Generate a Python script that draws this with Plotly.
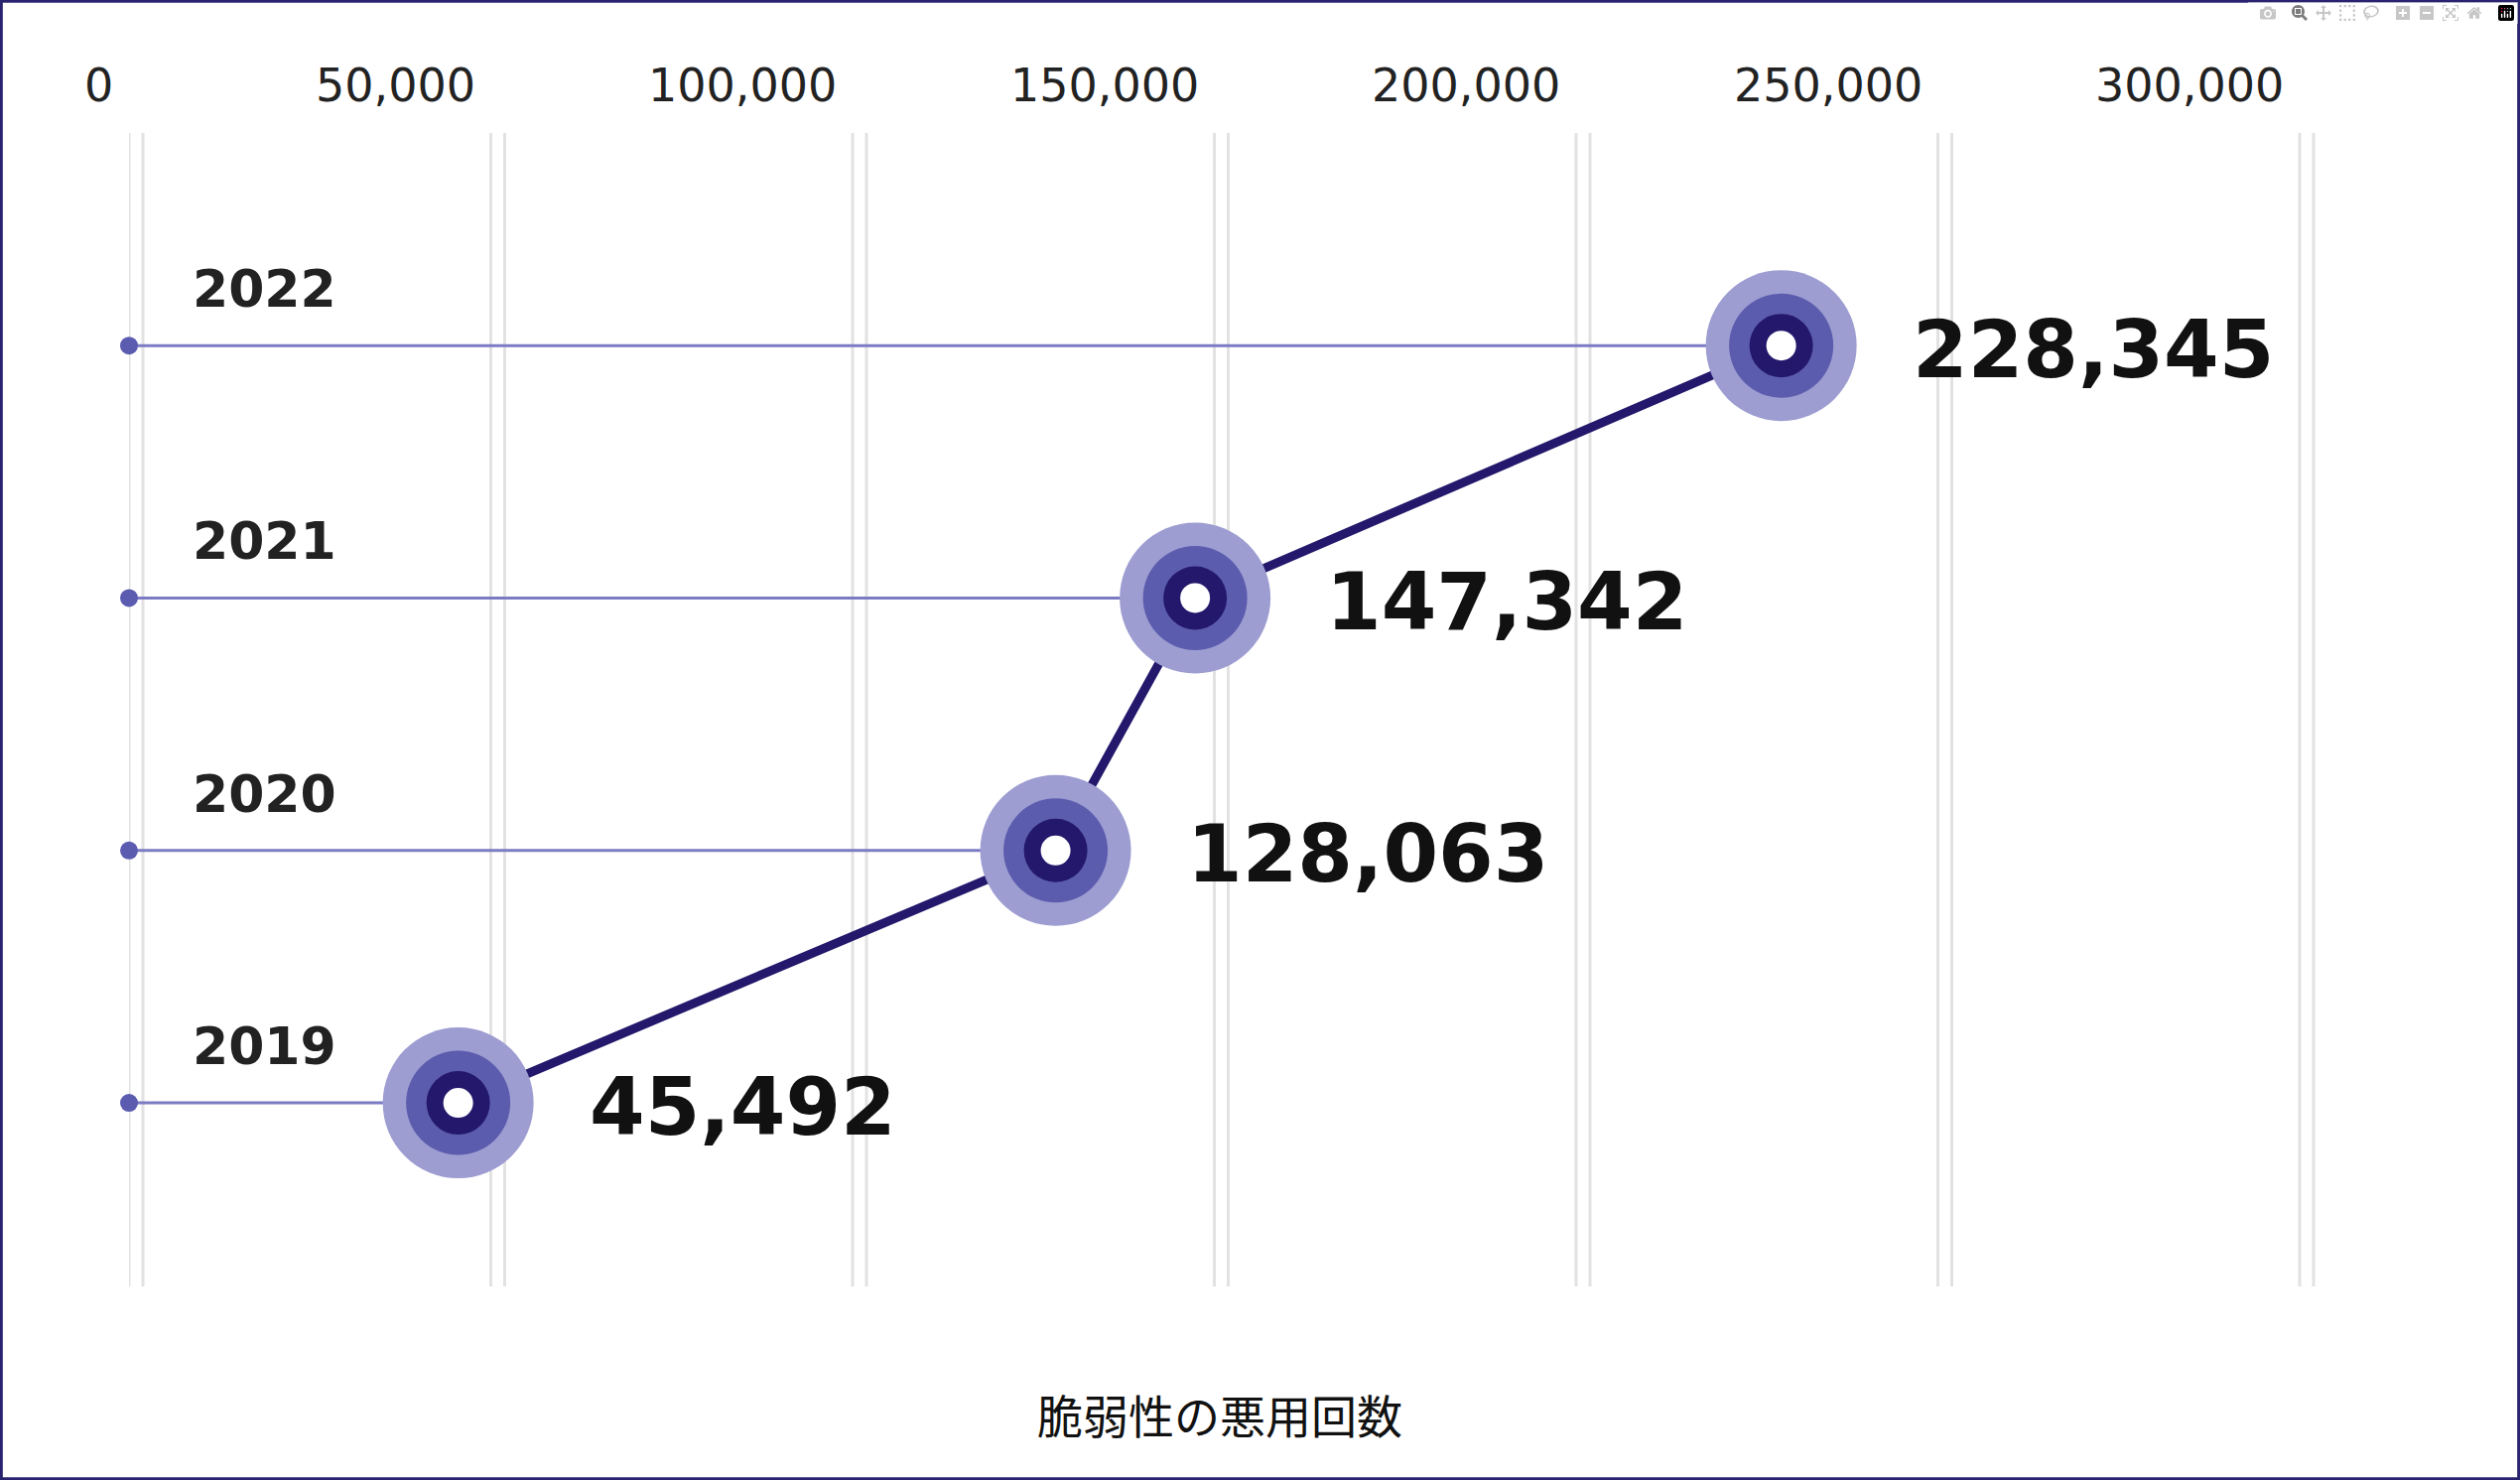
import plotly.graph_objects as go

years = ["2019", "2020", "2021", "2022"]
values = [45492, 128063, 147342, 228345]
labels = ["45,492", "128,063", "147,342", "228,345"]
tick_vals = [0, 50000, 100000, 150000, 200000, 250000, 300000]
tick_text = ["0", "50,000", "100,000", "150,000", "200,000", "250,000", "300,000"]
title = "脆弱性の悪用回数"

W, H = 2539, 1491
ml, mr, mt, mb = 130, 222, 134, 195
base_pw = W - ml - mr
gap = 14 / base_pw * 300000
mr = mr - 16
pw = W - ml - mr
xmax = 300000 + 16 / base_pw * 300000
ph = H - mt - mb
rows = list(range(len(years)))
FONT = "DejaVu Sans"

fig = go.Figure()
for r, v in zip(rows, values):
    fig.add_trace(go.Scatter(x=[0, v], y=[r, r], mode="lines",
                             line=dict(color="#7b7bc4", width=3), hoverinfo="skip", showlegend=False))
fig.add_trace(go.Scatter(x=[0] * len(rows), y=rows, mode="markers", cliponaxis=False,
                         marker=dict(size=18, color="#5b5bb0"), hoverinfo="skip", showlegend=False))
fig.add_trace(go.Scatter(x=values, y=rows, mode="lines",
                         line=dict(color="#23186b", width=9), showlegend=False))
for size, col in [(152, "#9d9dd2"), (105, "#5c5cae"), (64, "#23186b"), (30, "#ffffff")]:
    fig.add_trace(go.Scatter(x=values, y=rows, mode="markers", cliponaxis=False,
                             marker=dict(size=size, color=col, line=dict(width=0)),
                             hoverinfo="skip", showlegend=False))

shapes = []
for v in tick_vals:
    for dx in (0, gap):
        shapes.append(dict(type="line", xref="x", yref="paper", x0=v + dx, x1=v + dx, y0=0, y1=1,
                           line=dict(color="#e2e2e2", width=3), layer="below"))
shapes.append(dict(type="rect", xref="paper", yref="paper",
                   x0=-ml / pw + 0.0006, x1=(W - ml) / pw - 0.0006,
                   y0=-mb / ph + 0.001, y1=(H - mb) / ph - 0.001,
                   line=dict(color="#2a2370", width=3)))

ann = []
for v, t in zip(tick_vals, tick_text):
    ann.append(dict(x=v, y=1, xref="x", yref="paper", text=t, showarrow=False,
                    xanchor="right", yanchor="middle", xshift=-14, yshift=48,
                    font=dict(family=FONT, size=46, color="#222")))
for r, y in zip(rows, years):
    ann.append(dict(x=0, y=r, xref="x", yref="y", text="<b>" + y + "</b>", showarrow=False,
                    xanchor="left", yanchor="middle", xshift=62, yshift=57,
                    font=dict(family=FONT, size=52, color="#222")))
for r, v, l in zip(rows, values, labels):
    ann.append(dict(x=v, y=r, xref="x", yref="y", text="<b>" + l + "</b>", showarrow=False,
                    xanchor="left", yanchor="middle", xshift=130, yshift=-4,
                    font=dict(family=FONT, size=80, color="#111")))
ann.append(dict(x=150700, y=-mb / ph + 0.058, xref="x", yref="paper", text=title, showarrow=False,
                xanchor="center", yanchor="middle",
                font=dict(family="Noto Sans CJK JP", size=46, color="#111")))

fig.update_layout(
    width=W, height=H, margin=dict(l=ml, r=mr, t=mt, b=mb),
    paper_bgcolor="white", plot_bgcolor="white",
    xaxis=dict(range=[0, xmax], showgrid=False, zeroline=False, showticklabels=False),
    yaxis=dict(range=[-0.727, 3.842], showgrid=False, zeroline=False, showticklabels=False),
    shapes=shapes, annotations=ann, showlegend=False,
)
fig.write_html("out.html", post_script="document.body.style.margin='0';document.body.style.overflow='hidden';")
